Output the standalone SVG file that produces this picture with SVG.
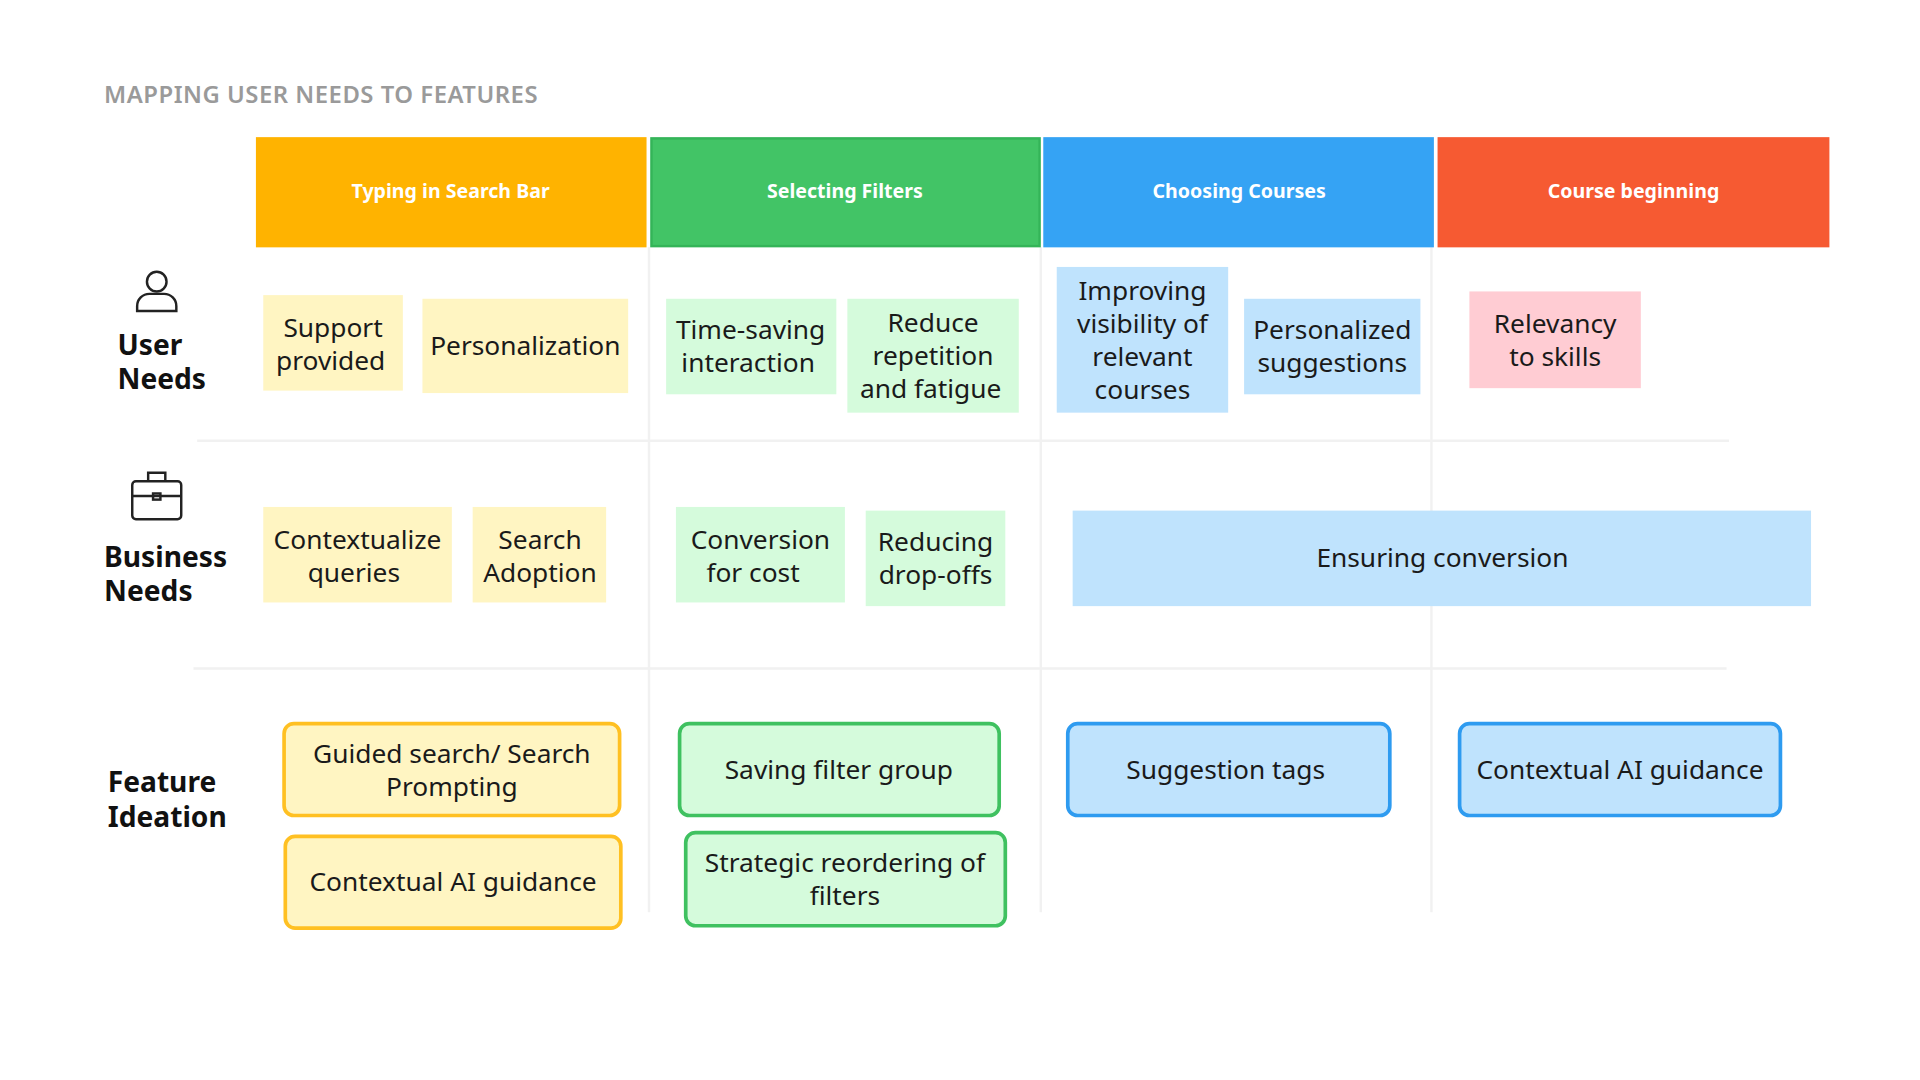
<svg xmlns="http://www.w3.org/2000/svg" width="1920" height="1080" viewBox="0 0 1920 1080">
<style>
text{font-family:"Noto Sans","Liberation Sans",sans-serif}
.h{fill:#fff;font-size:16px;font-weight:700;text-anchor:middle}
.lbl{fill:#111;font-size:23px;font-weight:700}
.t{fill:#1a1a1a;font-size:21.5px;text-anchor:middle}
.y{fill:#FFF5C2}.g{fill:#D5FBDC}.b{fill:#BFE3FD}.p{fill:#FFCCD3}
.fy{fill:#FFF5C2;stroke:#FFC022;stroke-width:3}
.fg{fill:#D5FBDC;stroke:#3FC160;stroke-width:3}
.fb{fill:#BFE3FD;stroke:#2E9BF0;stroke-width:3}
.grid{stroke:#F1F1F1;stroke-width:2}
</style>
<rect width="1920" height="1080" fill="#fff"/>
<g transform="scale(1.2245)">
<text x="85" y="84" fill="#9a9a9a" font-size="19.5" font-weight="600" textLength="354">MAPPING USER NEEDS TO FEATURES</text>
<g id="grid">
<line class="grid" x1="530" y1="202" x2="530" y2="745"/>
<line class="grid" x1="850" y1="202" x2="850" y2="745"/>
<line class="grid" x1="1169" y1="202" x2="1169" y2="745"/>
<line class="grid" x1="161" y1="360" x2="1412" y2="360"/>
<line class="grid" x1="158" y1="546" x2="1410" y2="546"/>
</g>
<g id="headers">
<rect x="209" y="112" width="319" height="90" fill="#FFB300"/><text class="h" x="368" y="162">Typing in Search Bar</text>
<rect x="532" y="113" width="317" height="88" fill="#42C466" stroke="#34B458" stroke-width="2"/><text class="h" x="690" y="162">Selecting Filters</text>
<rect x="852" y="112" width="319" height="90" fill="#35A3F4"/><text class="h" x="1012" y="162">Choosing Courses</text>
<rect x="1174" y="112" width="320" height="90" fill="#F65A32"/><text class="h" x="1334" y="162">Course beginning</text>
</g>
<g id="row-labels">
<g fill="none" stroke="#222" stroke-width="2">
<circle cx="128" cy="230" r="8"/>
<path d="M112 254 v-4 a10 10 0 0 1 10 -10 h12 a10 10 0 0 1 10 10 v4 z"/>
<rect x="108" y="393" width="40" height="31" rx="3"/>
<path d="M121 393 v-7 h14 v7 M108 405 h40"/>
<rect x="125" y="403" width="6" height="5"/>
</g>
<text class="lbl" x="96" y="290">User</text><text class="lbl" x="96" y="318">Needs</text>
<text class="lbl" x="85" y="463">Business</text><text class="lbl" x="85" y="491">Needs</text>
<text class="lbl" x="88" y="647">Feature</text><text class="lbl" x="88" y="675">Ideation</text>
</g>
<g id="user-needs">
<rect class="y" x="215" y="241" width="114" height="78"/><text class="t" x="272" y="275">Support</text><text class="t" x="270" y="302">provided</text>
<rect class="y" x="345" y="244" width="168" height="77"/><text class="t" x="429" y="290">Personalization</text>
<rect class="g" x="544" y="244" width="139" height="78"/><text class="t" x="613" y="277">Time-saving</text><text class="t" x="611" y="304">interaction</text>
<rect class="g" x="692" y="244" width="140" height="93"/><text class="t" x="762" y="271">Reduce</text><text class="t" x="762" y="298">repetition</text><text class="t" x="760" y="325">and fatigue</text>
<rect class="b" x="863" y="218" width="140" height="119"/><text class="t" x="933" y="245">Improving</text><text class="t" x="933" y="272">visibility of</text><text class="t" x="933" y="299">relevant</text><text class="t" x="933" y="326">courses</text>
<rect class="b" x="1016" y="244" width="144" height="78"/><text class="t" x="1088" y="277">Personalized</text><text class="t" x="1088" y="304">suggestions</text>
<rect class="p" x="1200" y="238" width="140" height="79"/><text class="t" x="1270" y="272">Relevancy</text><text class="t" x="1270" y="299">to skills</text>
</g>
<g id="business-needs">
<rect class="y" x="215" y="414" width="154" height="78"/><text class="t" x="292" y="448">Contextualize</text><text class="t" x="289" y="475">queries</text>
<rect class="y" x="386" y="414" width="109" height="78"/><text class="t" x="441" y="448">Search</text><text class="t" x="441" y="475">Adoption</text>
<rect class="g" x="552" y="414" width="138" height="78"/><text class="t" x="621" y="448">Conversion</text><text class="t" x="615" y="475">for cost</text>
<rect class="g" x="707" y="417" width="114" height="78"/><text class="t" x="764" y="450">Reducing</text><text class="t" x="764" y="477">drop-offs</text>
<rect class="b" x="876" y="417" width="603" height="78"/><text class="t" x="1178" y="463">Ensuring conversion</text>
</g>
<g id="features">
<rect class="fy" x="232" y="591" width="274" height="75" rx="8"/><text class="t" x="369" y="623">Guided search/ Search</text><text class="t" x="369" y="650">Prompting</text>
<rect class="fy" x="233" y="683" width="274" height="75" rx="8"/><text class="t" x="370" y="728">Contextual AI guidance</text>
<rect class="fg" x="555" y="591" width="261" height="75" rx="8"/><text class="t" x="685" y="636">Saving filter group</text>
<rect class="fg" x="560" y="680" width="261" height="76" rx="8"/><text class="t" x="690" y="712">Strategic reordering of</text><text class="t" x="690" y="739">filters</text>
<rect class="fb" x="872" y="591" width="263" height="75" rx="8"/><text class="t" x="1001" y="636">Suggestion tags</text>
<rect class="fb" x="1192" y="591" width="262" height="75" rx="8"/><text class="t" x="1323" y="636">Contextual AI guidance</text>
</g>
</g>
</svg>
